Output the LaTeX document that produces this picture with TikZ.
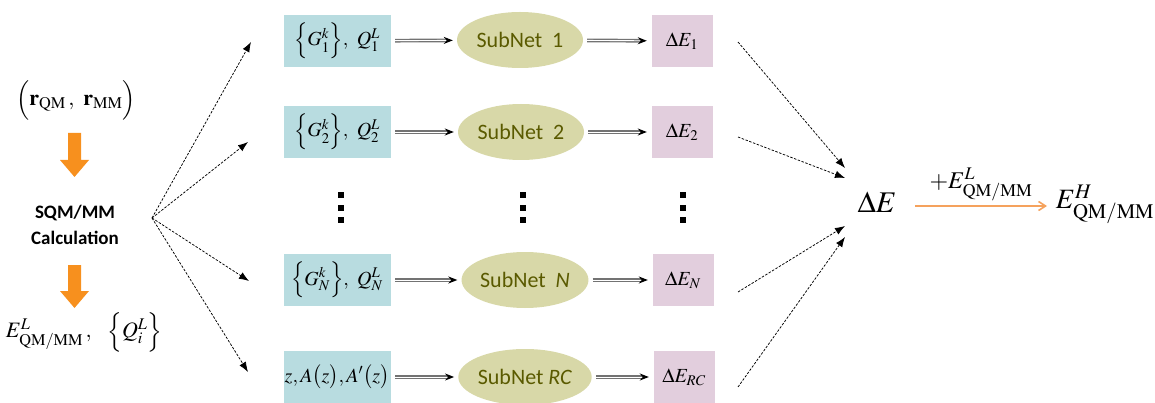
\documentclass[tikz,border=0pt]{standalone}
\usepackage{mathptmx}
\usepackage{fontspec}
\usetikzlibrary{arrows.meta,shapes.geometric}
\newfontfamily\carlito{Carlito}
\definecolor{boxblue}{HTML}{B8DCE0}
\definecolor{netgreen}{HTML}{D8D8A8}
\definecolor{nettext}{HTML}{5A5A00}
\definecolor{boxpink}{HTML}{E2CEDD}
\definecolor{orangeA}{HTML}{F7901E}
\definecolor{orangeB}{HTML}{F5A25D}
\tikzset{
  inbox/.style={fill=boxblue, draw=white, minimum width=108pt, minimum height=53pt, inner sep=0pt, font=\fontsize{20}{23}\selectfont},
  net/.style={ellipse, fill=netgreen, minimum width=126pt, minimum height=56pt, inner sep=0pt, text=nettext, font=\carlito\fontsize{22}{26}\selectfont},
  outbox/.style={fill=boxpink, draw=white, minimum width=62pt, minimum height=53pt, inner sep=0pt, font=\fontsize{20}{23}\selectfont},
  flow/.style={draw=black!55, double=white, double distance=0.9pt, line width=1.4pt, -{Stealth[length=9pt,width=7pt,black]}, shorten <=4pt, shorten >=4pt},
  dasharrow/.style={black, line width=0.75pt, dash pattern=on 2.5pt off 1.5pt, -{Latex[length=10pt,width=7.5pt]}},
  dotmark/.style={fill=black, minimum size=5.5pt, inner sep=0pt},
  blockarrow/.style={fill=orangeA, draw=none},
}
\begin{document}
\begin{tikzpicture}[x=1pt,y=-1pt]
\useasboundingbox (0,0) rectangle (1155,403);

% left column
\node (r) at (76,100) {\fontsize{22}{26}\selectfont $\Bigl(\mathbf{r}_{\mathrm{QM}}\,,\ \mathbf{r}_{\mathrm{MM}}\Bigr)$};
\fill[blockarrow] (68,133) -- (81,133) -- (81,160) -- (89,160) -- (74.5,177) -- (60,160) -- (68,160) -- cycle;
\node[font=\carlito\bfseries\fontsize{19}{26}\selectfont, align=center] (calc) at (75,225) {SQM/MM\\Calculation};
\fill[blockarrow] (68,265) -- (81,265) -- (81,291) -- (89,291) -- (74.5,308) -- (60,291) -- (68,291) -- cycle;
\node (eq) at (84,332) {\fontsize{22}{26}\selectfont $E^{L}_{\mathrm{QM/MM}}\,,\ \ \Bigl\{Q^{L}_{i}\Bigr\}$};

% fan-out
\coordinate (src) at (152,218);
\coordinate (t1) at (251,42);
\coordinate (t2) at (248,142);
\coordinate (t3) at (249,281);
\coordinate (t4) at (248,372);
\foreach \t in {t1,t2,t3,t4} \draw[dasharrow] (src) -- (\t);

% rows
\node[inbox] (in1) at (337,41) {$\Bigl\{G^{k}_{1}\Bigr\},\ Q^{L}_{1}$};
\node[inbox] (in2) at (337,132) {$\Bigl\{G^{k}_{2}\Bigr\},\ Q^{L}_{2}$};
\node[inbox] (inN) at (337,280) {$\Bigl\{G^{k}_{N}\Bigr\},\ Q^{L}_{N}$};
\node[inbox] (inR) at (337,377) {$z,A\bigl(z\bigr),A'\bigl(z\bigr)$};

\node[net] (n1) at (520,40) {SubNet\ \ 1};
\node[net] (n2) at (521,132) {SubNet\ \ 2};
\node[net] (nN) at (525,280) {SubNet\ \ \textit{N}};
\node[net] (nR) at (525,377) {SubNet \textit{RC}};

\node[outbox] (o1) at (682,41) {$\Delta E_{1}$};
\node[outbox] (o2) at (682,132) {$\Delta E_{2}$};
\node[outbox] (oN) at (683,280) {$\Delta E_{N}$};
\node[outbox] (oR) at (684,377) {$\Delta E_{RC}$};

\foreach \a/\b in {in1/n1,in2/n2,inN/nN,inR/nR,n1/o1,n2/o2,nN/oN,nR/oR}
  \draw[flow] (\a) -- (\b);

% dots
\foreach \x in {341,523,683}
  \foreach \y in {195,208,220}
    \node[dotmark] at (\x,\y) {};

% fan-in
\node (dE) at (877,202) {\fontsize{30}{34}\selectfont $\Delta E$};
\coordinate (s1) at (738,42);
\coordinate (s2) at (738,137);
\coordinate (s3) at (738,292);
\coordinate (s4) at (738,387);
\coordinate (e1) at (845,168);
\coordinate (e2) at (845,178);
\coordinate (e3) at (845,226);
\coordinate (e4) at (845,237);
\draw[dasharrow] (s1) -- (e1);
\draw[dasharrow] (s2) -- (e2);
\draw[dasharrow] (s3) -- (e3);
\draw[dasharrow] (s4) -- (e4);

\node (EH) at (1105,204) {\fontsize{28}{32}\selectfont $E^{H}_{\mathrm{QM/MM}}$};
\draw[orangeB, line width=1.6pt, -{Straight Barb[length=7pt,width=9pt]}] (915,206) -- (1047,206) node[midway, above=1pt, black] {\fontsize{24}{28}\selectfont $+E^{L}_{\mathrm{QM/MM}}$};
\end{tikzpicture}
\end{document}
